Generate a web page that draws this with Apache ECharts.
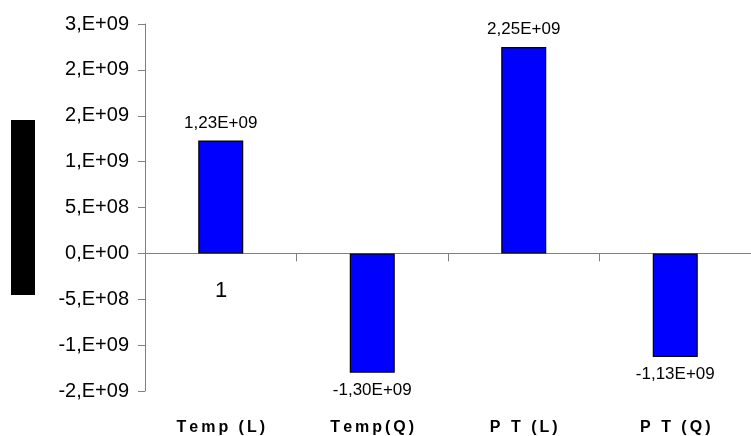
<!DOCTYPE html>
<html>
<head>
<meta charset="utf-8">
<script src="https://cdn.jsdelivr.net/npm/echarts@6/dist/echarts.min.js"></script>
<style>
html,body{margin:0;padding:0;background:#fff;}
#chart{width:751px;height:436px;}
</style>
</head>
<body>
<div id="chart"></div>
<script>
const categories = ['Temp (L)', 'Temp(Q)', 'P T (L)', 'P T (Q)'];
const values = [1.23e9, -1.30e9, 2.25e9, -1.13e9];
const valueLabels = ['1,23E+09', '-1,30E+09', '2,25E+09', '-1,13E+09'];
const yTickLabels = ['-2,E+09', '-1,E+09', '-5,E+08', '0,E+00', '5,E+08', '1,E+09', '2,E+09', '2,E+09', '3,E+09'];
const yMin = -1.5e9, yMax = 2.5e9, yStep = 5e8;
const strayLabel = '1';

const chart = echarts.init(document.getElementById('chart'));
const axisGray = '#808080';
const spaced = v => v.split('').map(c => '{c|' + c + '}').join('');

chart.setOption({
  animation: false,
  backgroundColor: '#fff',
  grid: { left: 145, top: 24, width: 616, height: 368 },
  xAxis: [
    {
      type: 'category', data: categories, position: 'bottom',
      axisLine: { onZero: true, lineStyle: { color: axisGray, width: 1 } },
      axisTick: { show: true, length: 8, interval: 0, lineStyle: { color: axisGray } },
      axisLabel: { show: false }, splitLine: { show: false }
    },
    {
      type: 'category', data: categories, position: 'bottom',
      axisLine: { show: false, onZero: false }, axisTick: { show: false },
      splitLine: { show: false },
      axisLabel: {
        show: true, interval: 0, margin: 29, formatter: spaced,
        rich: { c: { fontFamily: 'Liberation Sans', fontWeight: 'bold', fontSize: 16, color: '#000', padding: [0, 1.5, 0, 1.5] } }
      }
    }
  ],
  yAxis: {
    type: 'value', min: yMin, max: yMax, interval: yStep,
    axisLine: { show: true, lineStyle: { color: axisGray, width: 1 } },
    axisTick: { show: true, length: 7, lineStyle: { color: axisGray } },
    splitLine: { show: false },
    axisLabel: {
      margin: 16, fontFamily: 'Liberation Sans', fontSize: 20, color: '#000',
      formatter: (v, i) => yTickLabels[Math.round((v - yMin) / yStep)]
    }
  },
  series: [{
    type: 'bar', xAxisIndex: 0, barWidth: 45,
    itemStyle: { color: '#0000FF', borderColor: '#000', borderWidth: 1.2 },
    data: values.map((v, i) => ({
      value: v,
      label: {
        show: true, position: v >= 0 ? 'top' : 'bottom', distance: 9,
        formatter: () => valueLabels[i],
        fontFamily: 'Liberation Sans', fontSize: 17, color: '#000'
      }
    }))
  }],
  graphic: [
    { type: 'rect', shape: { x: 11, y: 120, width: 24, height: 175 }, style: { fill: '#000' } },
    { type: 'text', x: 221, y: 291, style: { text: strayLabel, fontFamily: 'Liberation Sans', fontSize: 22, fill: '#000', textAlign: 'center', textVerticalAlign: 'middle' } }
  ]
});
</script>
</body>
</html>
